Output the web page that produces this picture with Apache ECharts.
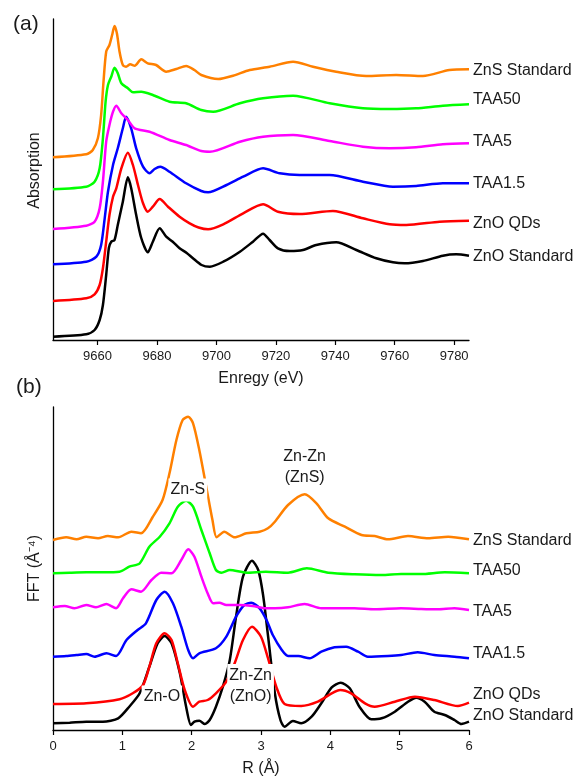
<!DOCTYPE html>
<html>
<head>
<meta charset="utf-8">
<script src="https://cdn.jsdelivr.net/npm/echarts@6/dist/echarts.min.js"></script>
<style>
html,body{margin:0;padding:0;background:#fff;}
#chart{width:582px;height:778px;}
</style>
</head>
<body>
<div id="chart"></div>
<script>
// ---------- categories / names ----------
const sampleNames = ['ZnO Standard', 'ZnO QDs', 'TAA1.5', 'TAA5', 'TAA50', 'ZnS Standard'];
const sampleColors = ['#000000', '#FF0000', '#0000FF', '#FF00FF', '#00FF00', '#FF8000'];

// ---------- tick labels ----------
const energyTicks = [9660, 9680, 9700, 9720, 9740, 9760, 9780];
const rTicks = [0, 1, 2, 3, 4, 5, 6];

// ---------- (a) XANES, stacked absorption (a.u.) [energy eV, value] ----------
const xanesZnOStd = [[9645,0.033],[9656.2,0.057],[9659,0.10],[9660.7,0.20],[9661.8,0.35],[9662.9,0.65],[9663.8,0.92],[9664.6,0.983],[9665.7,1.00],[9666.8,1.15],[9668.5,1.383],[9670.2,1.627],[9671.3,1.52],[9673,1.25],[9674.7,1.02],[9676.9,0.877],[9678.6,0.983],[9680.9,1.117],[9683.1,1.033],[9685.3,0.983],[9687.6,0.917],[9690,0.87],[9692,0.82],[9695,0.75],[9697.8,0.733],[9702.3,0.783],[9707.9,0.883],[9712.3,0.983],[9715.7,1.063],[9717.9,1.00],[9720.7,0.917],[9724.7,0.89],[9729.1,0.90],[9733.6,0.95],[9740.3,0.977],[9747.1,0.90],[9753.8,0.817],[9759.4,0.777],[9763.3,0.767],[9769.5,0.79],[9776.2,0.843],[9780.7,0.857],[9785,0.843]];
const xanesZnOQDs = [[9645,0.39],[9656.2,0.417],[9659,0.457],[9660.7,0.55],[9661.8,0.717],[9662.9,0.983],[9664,1.25],[9665.2,1.433],[9666.3,1.517],[9668,1.717],[9670.2,1.873],[9671.9,1.75],[9673.6,1.55],[9675.3,1.367],[9676.9,1.283],[9678.6,1.333],[9680.9,1.41],[9683.7,1.333],[9687.6,1.233],[9691,1.167],[9694,1.125],[9697.2,1.107],[9702.3,1.157],[9709,1.267],[9715.7,1.357],[9720.7,1.283],[9728,1.26],[9739.2,1.29],[9749.3,1.217],[9758.3,1.157],[9763.9,1.15],[9775.1,1.183],[9785,1.193]];
const xanesTAA15 = [[9645,0.757],[9656.2,0.783],[9659.6,0.833],[9661.2,0.95],[9662.4,1.217],[9663.5,1.483],[9665.2,1.75],[9666.8,1.917],[9668.5,2.117],[9669.6,2.233],[9671.3,2.117],[9673,1.917],[9675.3,1.733],[9677.5,1.667],[9679.2,1.71],[9681.1,1.733],[9684.2,1.683],[9689.8,1.567],[9694.9,1.49],[9697.2,1.477],[9703.4,1.55],[9709,1.633],[9715.7,1.717],[9721.3,1.667],[9728,1.65],[9738.1,1.65],[9749.3,1.583],[9759.4,1.533],[9767.2,1.54],[9776.2,1.567],[9785,1.567]];
const xanesTAA5 = [[9645,1.11],[9656.2,1.143],[9659,1.183],[9660.7,1.317],[9661.8,1.583],[9662.9,1.983],[9664,2.15],[9665.2,2.283],[9666.3,2.343],[9668,2.267],[9670.2,2.20],[9672.5,2.117],[9677.5,2.083],[9684.2,2.00],[9689.8,1.95],[9694.9,1.89],[9697.8,1.883],[9707.9,1.983],[9715.7,2.033],[9725.8,2.05],[9738.1,1.99],[9749.3,1.933],[9758.3,1.917],[9767.2,1.927],[9776.2,1.957],[9785,1.967]];
const xanesTAA50 = [[9645,1.507],[9656.2,1.533],[9659,1.583],[9660.7,1.717],[9661.8,2.017],[9662.7,2.383],[9663.5,2.55],[9664.6,2.633],[9665.7,2.723],[9666.8,2.667],[9668,2.567],[9670.2,2.517],[9671.9,2.477],[9674.7,2.483],[9678.6,2.45],[9684.2,2.383],[9689.8,2.367],[9694.9,2.30],[9698.9,2.283],[9707.9,2.367],[9715.7,2.417],[9725.8,2.443],[9738.1,2.367],[9749.3,2.317],[9758.3,2.31],[9767.2,2.317],[9776.2,2.343],[9785,2.357]];
const xanesZnSStd = [[9645,1.827],[9656.2,1.857],[9658.4,1.90],[9660.1,2.017],[9661.2,2.25],[9662,2.583],[9662.9,2.883],[9664,2.95],[9664.9,3.05],[9665.7,3.14],[9666.5,3.067],[9667.4,2.883],[9668.5,2.75],[9669.6,2.733],[9671,2.757],[9672.5,2.743],[9674.7,2.807],[9676.9,2.767],[9679.7,2.75],[9683.1,2.683],[9686.5,2.71],[9689.8,2.74],[9692.6,2.70],[9694.9,2.65],[9700.6,2.61],[9705.6,2.643],[9711.2,2.70],[9717.9,2.733],[9725.8,2.783],[9732.5,2.733],[9740.3,2.683],[9750.4,2.64],[9760.5,2.65],[9769.5,2.64],[9778.4,2.70],[9785,2.707]];

// ---------- (b) FT-EXAFS, stacked magnitude (a.u.) [R Å, value] ----------
const fftZnOStd = [[0,0.067],[0.24,0.073],[0.48,0.083],[0.72,0.083],[0.94,0.117],[1.10,0.233],[1.25,0.367],[1.39,0.633],[1.51,0.867],[1.61,0.94],[1.71,0.867],[1.83,0.567],[1.92,0.233],[1.99,0.05],[2.04,0.083],[2.11,0.093],[2.19,0.06],[2.26,0.10],[2.35,0.233],[2.45,0.433],[2.55,0.70],[2.64,1.133],[2.74,1.533],[2.87,1.693],[2.96,1.60],[3.03,1.35],[3.10,0.95],[3.20,0.367],[3.28,0.10],[3.34,0.033],[3.46,0.09],[3.58,0.067],[3.73,0.133],[3.87,0.267],[4.02,0.427],[4.15,0.473],[4.28,0.417],[4.42,0.233],[4.59,0.107],[4.74,0.117],[4.93,0.183],[5.12,0.283],[5.24,0.323],[5.36,0.283],[5.50,0.183],[5.65,0.15],[5.79,0.10],[5.89,0.06],[6.0,0.083]];
const fftZnOQDs = [[0,0.26],[0.48,0.267],[0.96,0.307],[1.15,0.367],[1.30,0.45],[1.39,0.633],[1.49,0.867],[1.61,0.967],[1.71,0.90],[1.80,0.667],[1.90,0.40],[2.02,0.233],[2.11,0.283],[2.23,0.30],[2.35,0.367],[2.50,0.483],[2.62,0.667],[2.74,0.90],[2.87,1.033],[3.00,0.933],[3.10,0.72],[3.22,0.433],[3.34,0.26],[3.58,0.24],[3.82,0.283],[4.14,0.40],[4.30,0.367],[4.50,0.267],[4.64,0.233],[4.93,0.283],[5.22,0.333],[5.50,0.30],[5.84,0.24],[6.0,0.273]];
const fftTAA15 = [[0,0.733],[0.19,0.74],[0.34,0.75],[0.48,0.76],[0.60,0.733],[0.77,0.767],[0.91,0.74],[1.06,0.90],[1.22,1.00],[1.34,1.067],[1.49,1.30],[1.61,1.383],[1.73,1.267],[1.85,1.033],[1.95,0.80],[2.02,0.717],[2.11,0.767],[2.35,0.817],[2.50,0.933],[2.64,1.133],[2.76,1.25],[2.86,1.273],[2.98,1.217],[3.08,1.10],[3.17,0.95],[3.30,0.80],[3.39,0.74],[3.54,0.74],[3.70,0.717],[3.87,0.783],[4.06,0.827],[4.23,0.833],[4.40,0.783],[4.54,0.733],[4.83,0.74],[5.02,0.75],[5.26,0.777],[5.50,0.75],[5.79,0.733],[6.0,0.717]];
const fftTAA5 = [[0,1.227],[0.17,1.24],[0.31,1.217],[0.48,1.25],[0.62,1.227],[0.77,1.26],[0.91,1.217],[1.01,1.317],[1.13,1.407],[1.27,1.383],[1.42,1.50],[1.56,1.573],[1.71,1.567],[1.85,1.70],[1.95,1.807],[2.04,1.733],[2.14,1.533],[2.23,1.367],[2.31,1.267],[2.40,1.273],[2.50,1.25],[2.69,1.25],[2.88,1.24],[3.07,1.217],[3.20,1.217],[3.39,1.227],[3.63,1.26],[3.87,1.217],[4.35,1.217],[4.64,1.207],[5.02,1.217],[5.31,1.21],[5.55,1.207],[5.79,1.217],[6.0,1.20]];
const fftTAA50 = [[0,1.567],[0.24,1.573],[0.48,1.577],[0.72,1.577],[0.96,1.583],[1.10,1.633],[1.25,1.667],[1.39,1.833],[1.54,1.933],[1.68,2.067],[1.80,2.233],[1.92,2.293],[2.02,2.233],[2.14,2.00],[2.26,1.767],[2.35,1.60],[2.43,1.573],[2.55,1.60],[2.79,1.573],[3.07,1.583],[3.39,1.573],[3.66,1.617],[3.97,1.573],[4.35,1.557],[4.74,1.55],[5.02,1.56],[5.31,1.56],[5.65,1.577],[6.0,1.567]];
const fftZnSStd = [[0,1.90],[0.19,1.927],[0.34,1.907],[0.48,1.933],[0.65,1.917],[0.79,1.94],[0.94,1.927],[1.13,1.983],[1.27,1.967],[1.44,2.133],[1.58,2.30],[1.68,2.567],[1.78,2.90],[1.87,3.10],[1.95,3.133],[2.02,3.067],[2.11,2.80],[2.21,2.433],[2.30,2.10],[2.36,1.927],[2.47,1.983],[2.62,1.927],[2.79,1.967],[2.98,1.983],[3.10,2.017],[3.20,2.083],[3.39,2.25],[3.63,2.357],[3.80,2.267],[3.97,2.117],[4.21,2.033],[4.45,1.95],[4.64,1.94],[4.83,1.907],[5.12,1.94],[5.41,1.917],[5.70,1.933],[6.0,1.907]];

// ---------- peak annotations (b): [R, value, text] ----------
const peakNotes = [
  { series: 5, coord: [1.945, 2.40], text: 'Zn-S', bg: true },
  { series: 5, coord: [3.63, 2.63], text: 'Zn-Zn\n(ZnS)', bg: false },
  { series: 0, coord: [1.57, 0.33], text: 'Zn-O', bg: true },
  { series: 0, coord: [2.85, 0.44], text: 'Zn-Zn\n(ZnO)', bg: true }
];

const xanesData = [xanesZnOStd, xanesZnOQDs, xanesTAA15, xanesTAA5, xanesTAA50, xanesZnSStd];
const fftData = [fftZnOStd, fftZnOQDs, fftTAA15, fftTAA5, fftTAA50, fftZnSStd];

// label nudges (px) so the end labels sit as in the figure
const labelDyA = [1, 3, 0, -2, -5, 1];
const labelDyB = [-6, -8, -5, 2, -3, 1];

const FONT = "'Liberation Sans', Arial, sans-serif";

const chart = echarts.init(document.getElementById('chart'), null, { renderer: 'canvas' });

function axisX(gridIndex, min, max, name, extra) {
  return Object.assign({
    type: 'value', gridIndex, min, max,
    name, nameLocation: 'middle', nameGap: 31,
    nameTextStyle: { fontFamily: FONT, fontSize: 16, color: '#1a1a1a' },
    axisLine: { show: true, onZero: false, lineStyle: { color: '#000', width: 1.3 } },
    axisTick: { show: true, inside: false, length: 5, lineStyle: { color: '#000', width: 1.2 } },
    axisLabel: { show: true, fontFamily: FONT, fontSize: 13, color: '#1a1a1a', margin: 10 },
    splitLine: { show: false }
  }, extra);
}
function axisY(gridIndex, min, max, name, pad) {
  return {
    type: 'value', gridIndex, min, max,
    name, nameLocation: 'middle', nameGap: 10,
    nameTextStyle: { fontFamily: FONT, fontSize: 16, color: '#1a1a1a', padding: pad },
    axisLine: { show: true, lineStyle: { color: '#000', width: 1.3 } },
    axisTick: { show: false }, axisLabel: { show: false }, splitLine: { show: false }
  };
}

const series = [];
sampleNames.forEach((nm, i) => {
  series.push({
    name: nm, type: 'line', xAxisIndex: 0, yAxisIndex: 0,
    data: xanesData[i], showSymbol: false, smooth: 0.25,
    lineStyle: { color: sampleColors[i], width: 2.5 },
    itemStyle: { color: sampleColors[i] },
    endLabel: { show: true, formatter: nm, fontFamily: FONT, fontSize: 16, color: '#1a1a1a', distance: 4, offset: [0, labelDyA[i]] }
  });
});
sampleNames.forEach((nm, i) => {
  const notes = peakNotes.filter(p => p.series === i);
  const s = {
    name: nm, type: 'line', xAxisIndex: 1, yAxisIndex: 1,
    data: fftData[i], showSymbol: false, smooth: 0.25,
    lineStyle: { color: sampleColors[i], width: 2.5 },
    itemStyle: { color: sampleColors[i] },
    endLabel: { show: true, formatter: nm, fontFamily: FONT, fontSize: 16, color: '#1a1a1a', distance: 4, offset: [0, labelDyB[i]] }
  };
  if (notes.length) {
    s.markPoint = {
      symbol: 'rect', symbolSize: 0, silent: true, animation: false,
      data: notes.map(p => ({
        coord: p.coord, name: p.text,
        label: {
          show: true, position: 'inside', formatter: p.text,
          fontFamily: FONT, fontSize: 16, color: '#1a1a1a', lineHeight: 21, align: 'center',
          backgroundColor: p.bg ? '#ffffff' : 'transparent', padding: [1, 2]
        }
      }))
    };
  }
  series.push(s);
});

chart.setOption({
  animation: false,
  backgroundColor: '#ffffff',
  title: [
    { text: '(a)', left: 8, top: 9, textStyle: { fontFamily: FONT, fontSize: 21, fontWeight: 'normal', color: '#1a1a1a' } },
    { text: '(b)', left: 11, top: 372, textStyle: { fontFamily: FONT, fontSize: 21, fontWeight: 'normal', color: '#1a1a1a' } }
  ],
  grid: [
    { left: 53, top: 19, width: 416, height: 321 },
    { left: 53, top: 407, width: 416, height: 323 }
  ],
  xAxis: [
    axisX(0, 9645, 9785, 'Enregy (eV)', {
      axisTick: { show: true, inside: false, length: 5, customValues: energyTicks, lineStyle: { color: '#000', width: 1.2 } },
      axisLabel: { show: true, fontFamily: FONT, fontSize: 13, color: '#1a1a1a', margin: 10, customValues: energyTicks,
        formatter: v => String(v) }
    }),
    axisX(1, 0, 6, 'R (Å)', {
      interval: 1,
      axisLabel: { show: true, fontFamily: FONT, fontSize: 13, color: '#1a1a1a', margin: 10,
        formatter: v => (rTicks.indexOf(v) >= 0 ? String(v) : '') }
    })
  ],
  yAxis: [
    axisY(0, 0, 3.21, 'Absorption', [0, 0, 0, 18]),
    axisY(1, 0, 3.23, 'FFT (Å⁻⁴)', [0, 0, 0, 0])
  ],
  series
});
</script>
</body>
</html>
